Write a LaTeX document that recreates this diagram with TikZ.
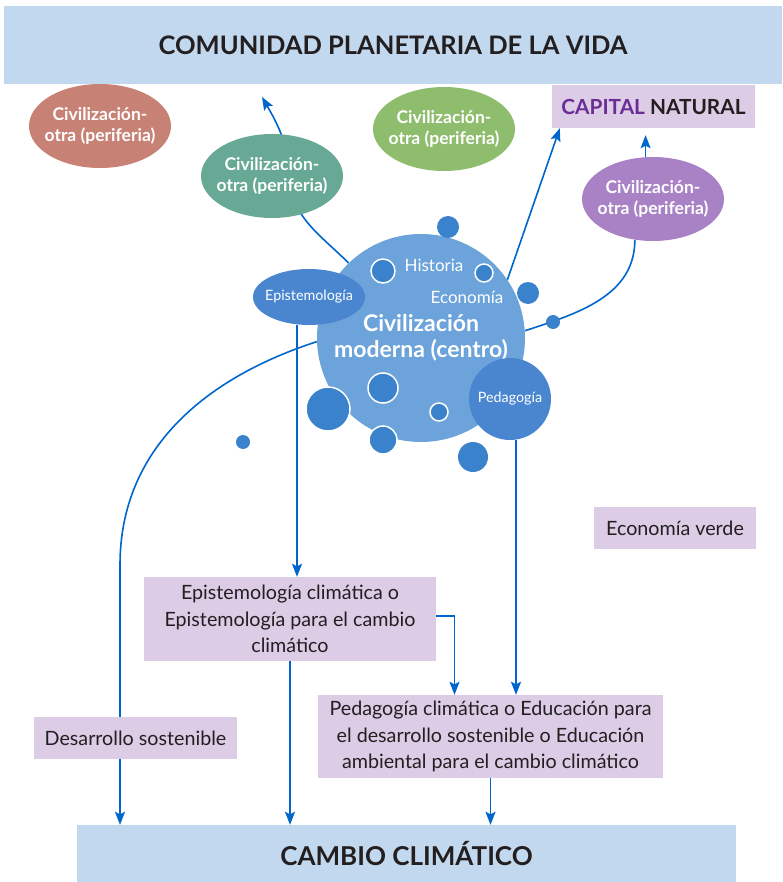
\documentclass[tikz,border=0pt]{standalone}
\usepackage{fontspec}
\setmainfont{Lato}
\usetikzlibrary{shapes.geometric,arrows.meta,backgrounds,positioning}
\definecolor{franjaazul}{HTML}{C2D8EE}
\definecolor{lila}{HTML}{DCCCE6}
\definecolor{textoscuro}{HTML}{231F20}
\definecolor{violeta}{HTML}{6A2D96}
\definecolor{lineaazul}{HTML}{0066CC}
\definecolor{centroazul}{HTML}{6BA3DA}
\definecolor{temaazul}{HTML}{4A86CF}
\definecolor{puntoazul}{HTML}{3A82CC}
\definecolor{otraroja}{HTML}{C88275}
\definecolor{otraverdeazul}{HTML}{67A994}
\definecolor{otraverde}{HTML}{8FBD6E}
\definecolor{otravioleta}{HTML}{A982C5}
\begin{document}
\begin{tikzpicture}[x=1pt,y=-1pt,
  flecha/.style={draw=lineaazul,line width=1.6pt,-{Stealth[length=13pt,width=10pt,inset=2.5pt]}},
  linea/.style={draw=lineaazul,line width=1.6pt},
  franja/.style={fill=franjaazul,inner sep=0pt,text=textoscuro,font=\bfseries\fontsize{25.5}{30}\selectfont},
  caja/.style={fill=lila,inner sep=0pt,align=center,text=textoscuro,font=\fontsize{19.7}{26.5}\selectfont},
  otra/.style={ellipse,minimum width=142,minimum height=84,inner ysep=0pt,inner xsep=-12pt,align=center,text=white,font=\bfseries\fontsize{17.5}{21}\selectfont},
  tema/.style={fill=temaazul,inner sep=0pt,text=white,font=\fontsize{14.3}{17}\selectfont},
  punto/.style={circle,fill=puntoazul,inner sep=0pt,minimum size=#1},
  puntob/.style={punto=#1,draw=white,line width=1.5pt},
]
\useasboundingbox (0,0) rectangle (782,882);

% franjas arriba y abajo
\node[franja,minimum width=778,minimum height=78] (comunidad) at (393,45) {COMUNIDAD PLANETARIA DE LA VIDA};
\node[franja,minimum width=659,minimum height=57,font=\bfseries\fontsize{26}{30}\selectfont] (cambio) at (406.5,853.5) {CAMBIO CLIMÁTICO};
\node[caja,minimum width=203,minimum height=43,font=\bfseries\fontsize{20.8}{24}\selectfont] (capital) at (653.5,106.5) {\textcolor{violeta}{CAPITAL} NATURAL};

% civilizaciones otras
\node[otra,fill=otraroja] (otra1) at (100,126) {Civilización-\\otra (periferia)};
\node[otra,fill=otraverdeazul] (otra2) at (272,176) {Civilización-\\otra (periferia)};
\node[otra,fill=otraverde] (otra3) at (444,129) {Civilización-\\otra (periferia)};
\node[otra,fill=otravioleta] (otra4) at (653,199) {Civilización-\\otra (periferia)};

% centro
\node[circle,fill=centroazul,minimum size=208,inner sep=0pt,align=center,text=white,
  font=\bfseries\fontsize{23}{26}\selectfont] (centro) at (421,338) {Civilización\\moderna (centro)};
\node[punto=22] (p1) at (448,227) {};
\node[puntob=24] (p2) at (383,271) {};
\node[puntob=18] (p3) at (484,273) {};
\node[punto=22] (p4) at (528,293) {};
\node[punto=14] (p5) at (553,322) {};
\node[puntob=30] (p6) at (383,388) {};
\node[puntob=44] (p7) at (328,409) {};
\node[puntob=18] (p8) at (439,412) {};
\node[puntob=28] (p9) at (383,440) {};
\node[punto=14] (p10) at (243,442) {};
\node[punto=30] (p11) at (473,457) {};
\node[tema,ellipse,minimum width=112,minimum height=56,inner xsep=-8pt] (episte) at (309,297) {Epistemología};
\node[tema,circle,minimum size=82] (pedago) at (510,399) {Pedagogía};
\node[text=white,font=\fontsize{17}{19}\selectfont] (historia) at (434,265) {Historia};
\node[text=white,font=\fontsize{17}{19}\selectfont] (economia) at (467,297) {Economía};

% cajas
\node[caja,minimum width=292,minimum height=84] (epiclima) at (290,619) {Epistemología climática o\\Epistemología para el cambio\\climático};
\node[caja,minimum width=345,minimum height=83] (pedaclima) at (490.5,736.5) {Pedagogía climática o Educación para\\el desarrollo sostenible o Educación\\ambiental para el cambio climático};
\node[caja,minimum width=203,minimum height=42] (desarrollo) at (135.5,738) {Desarrollo sostenible};
\node[caja,minimum width=162,minimum height=42] (verde) at (675,528) {Economía verde};

\coordinate (puntaotra) at (262,97);
\coordinate (codo) at (120,565);

\begin{pgfonlayer}{background}
\draw[flecha] (centro.134) to[out=135,in=-90] (290,175) to[out=95,in=-60] (puntaotra);
\draw[flecha] (centro.34) -- ([xshift=8]capital.south west);
\draw[linea] (centro.4) to[out=18,in=-90] (otra4.-114);
\draw[flecha] (otra4.100) -- ([yshift=-7]otra4.100 |- capital.south);
\draw[flecha] (centro.182) to[out=198,in=90] (codo) -- (codo |- cambio.north);
\draw[flecha] ([xshift=-12]episte.south) -- ([xshift=-12]episte.south |- epiclima.north);
\draw[flecha] ([xshift=6]pedago.south) -- ([xshift=6]pedago.south |- pedaclima.north);
\draw[flecha] ([yshift=3]epiclima.east) -| ([xshift=-36]pedaclima.north);
\draw[flecha] (epiclima.south) -- (epiclima.south |- cambio.north);
\draw[flecha] (pedaclima.south) -- (pedaclima.south |- cambio.north);
\end{pgfonlayer}
\end{tikzpicture}
\end{document}
